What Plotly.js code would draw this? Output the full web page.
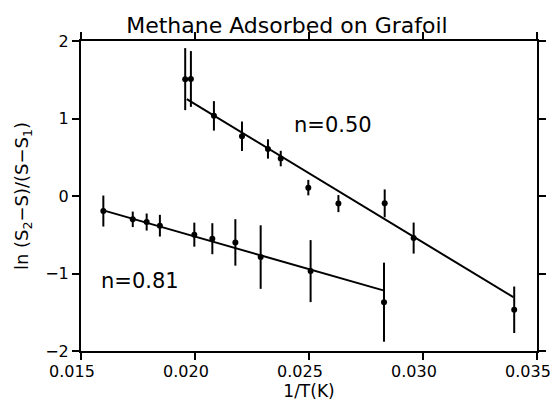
<!DOCTYPE html>
<html>
<head>
<meta charset="utf-8">
<script src="https://cdn.plot.ly/plotly-3.0.1.min.js"></script>
<style>html,body{margin:0;padding:0;background:#fff;}#chart{width:555px;height:402px;}</style>
</head>
<body>
<div id="chart"></div>
<script>
// n = 0.50 series
const xHigh = [0.01957, 0.01982, 0.02083, 0.02206, 0.02320, 0.02376, 0.02497, 0.02629, 0.02832, 0.02959, 0.03400];
const yHigh = [1.508, 1.510, 1.034, 0.771, 0.607, 0.483, 0.108, -0.098, -0.095, -0.543, -1.468];
const eHigh = [0.40, 0.36, 0.19, 0.19, 0.125, 0.10, 0.10, 0.11, 0.18, 0.20, 0.30];
const fitHighX = [0.01964, 0.03396];
const fitHighY = [1.249, -1.305];

// n = 0.81 series
const xLow = [0.01598, 0.01727, 0.01788, 0.01846, 0.01997, 0.02076, 0.02177, 0.02288, 0.02507, 0.02829];
const yLow = [-0.194, -0.301, -0.336, -0.383, -0.499, -0.551, -0.599, -0.788, -0.969, -1.370];
const eLow = [0.20, 0.10, 0.11, 0.14, 0.155, 0.20, 0.30, 0.41, 0.40, 0.51];
const fitLowX = [0.01598, 0.02826];
const fitLowY = [-0.185, -1.218];

const labels = ["n=0.50", "n=0.81"];
const labelX = [0.02605, 0.0176];
const labelY = [0.913, -1.098];

const xTicks = [0.015, 0.020, 0.025, 0.030, 0.035];
const xTickText = ["0.015", "0.020", "0.025", "0.030", "0.035"];
const yTicks = [-2, -1, 0, 1, 2];
const yTickText = ["\u22122", "\u22121", "0", "1", "2"];

const font = "DejaVu Sans, sans-serif";

const pts = (x, y, e) => ({
  x: x, y: y, type: 'scatter', mode: 'markers',
  marker: {color: '#000', size: 6},
  error_y: {type: 'data', array: e, visible: true, color: '#000', thickness: 2, width: 0},
  hoverinfo: 'skip', showlegend: false
});
const fit = (x, y) => ({
  x: x, y: y, type: 'scatter', mode: 'lines',
  line: {color: '#000', width: 2}, hoverinfo: 'skip', showlegend: false
});

const data = [fit(fitHighX, fitHighY), fit(fitLowX, fitLowY), pts(xHigh, yHigh, eHigh), pts(xLow, yLow, eLow)];

const layout = {
  width: 555, height: 402,
  margin: {l: 81, r: 18, t: 41, b: 51},
  paper_bgcolor: '#fff', plot_bgcolor: '#fff',
  font: {family: font, color: '#000', size: 15},
  title: {text: 'Methane Adsorbed on Grafoil', font: {family: font, size: 22, color: '#000'},
          x: 0.517, xref: 'container', xanchor: 'center', y: 0.938, yref: 'container', yanchor: 'middle'},
  xaxis: {
    range: [0.015, 0.0350000001], tickmode: 'array', tickvals: xTicks, ticktext: xTickText,
    ticklabeloverflow: 'allow', ticklabelshift: -9, ticklabelstandoff: -2,
    ticks: 'outside', ticklen: 7, tickwidth: 2, tickcolor: '#000',
    showline: true, linewidth: 2, linecolor: '#000', mirror: 'ticks',
    showgrid: false, zeroline: false,
    tickfont: {family: font, size: 16, color: '#000'},
    title: {text: '1/T(K)', font: {family: font, size: 17, color: '#000'}, standoff: 5}
  },
  yaxis: {
    range: [-2, 2], tickmode: 'array', tickvals: yTicks, ticktext: yTickText,
    ticks: 'outside', ticklen: 7, tickwidth: 2, tickcolor: '#000',
    showline: true, linewidth: 2, linecolor: '#000', mirror: 'ticks',
    showgrid: false, zeroline: false,
    tickfont: {family: font, size: 16, color: '#000'},
    title: {text: 'ln (S<sub>2</sub>\u2212S)/(S\u2212S<sub>1</sub>)', font: {family: font, size: 18, color: '#000'}, standoff: 12}
  },
  annotations: labels.map((t, i) => ({
    x: labelX[i], y: labelY[i], xref: 'x', yref: 'y', text: t, showarrow: false,
    font: {family: font, size: 21, color: '#000'}, xanchor: 'center', yanchor: 'middle'
  }))
};

Plotly.newPlot('chart', data, layout, {displayModeBar: false, staticPlot: true});
</script>
</body>
</html>
